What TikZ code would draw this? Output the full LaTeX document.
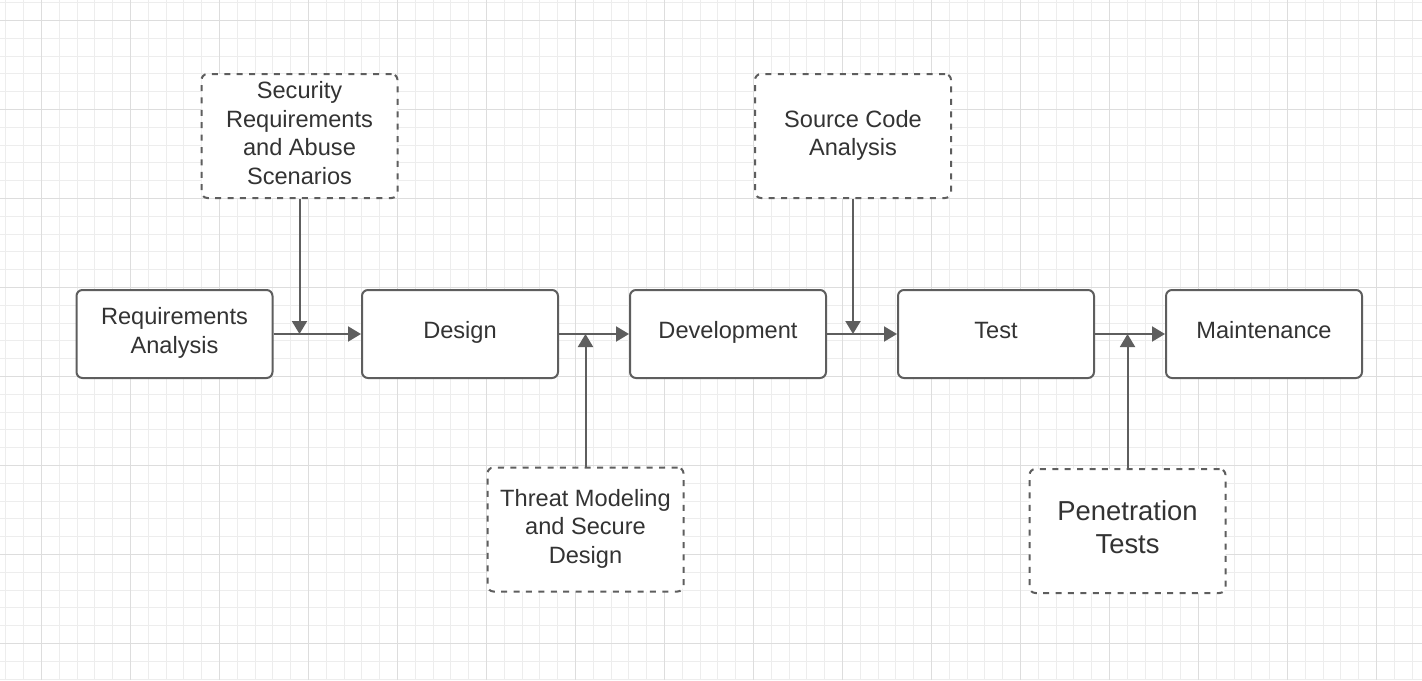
\documentclass[tikz,border=0pt]{standalone}
\usepackage{fontspec}
\setmainfont{Liberation Sans}
\usetikzlibrary{arrows.meta}
\definecolor{edge}{HTML}{5E5E5E}
\definecolor{txt}{HTML}{333333}
\definecolor{gminor}{HTML}{EDEDED}
\definecolor{gmajor}{HTML}{DDDDDD}
\tikzset{
  stagebox/.style={draw=edge, line width=1pt, rounded corners=3pt, fill=white,
    minimum width=98pt, minimum height=44pt, inner sep=0pt, align=center,
    text=txt, font=\fontsize{11.8}{14.25}\selectfont},
  oneline/.style={text height=8pt, text depth=3.5pt},
  actbox/.style={stagebox, dash pattern=on 3pt off 3.2pt, minimum height=62pt},
  conn/.style={draw=edge, line width=1pt, -{Triangle[length=6.5pt,width=7.5pt]}},
  gminorl/.style={gminor, line width=0.5pt},
  gmajorl/.style={gmajor, line width=0.6pt}
}
\begin{document}
\begin{tikzpicture}[x=0.5pt,y=-0.5pt]
\useasboundingbox (0,0) rectangle (1422,680);
\fill[white] (0,0) rectangle (1422,680);
% grid
\foreach \i in {-2,...,78} {
  \draw[gminorl] ({41.5+17.8*\i},0) -- ({41.5+17.8*\i},680);
}
\foreach \i in {-1,...,37} {
  \draw[gminorl] (0,{20.5+17.8*\i}) -- (1422,{20.5+17.8*\i});
}
\foreach \i in {0,...,15} {
  \draw[gmajorl] ({41.5+89*\i},0) -- ({41.5+89*\i},680);
}
\foreach \i in {0,...,7} {
  \draw[gmajorl] (0,{20.5+89*\i}) -- (1422,{20.5+89*\i});
}
% stages
\node[stagebox, text depth=3.5pt] (ra) at (174.5,334) {Requirements\\Analysis};
\node[stagebox, oneline] (de) at (460,334) {Design};
\node[stagebox, oneline] (dv) at (728,334) {Development};
\node[stagebox, oneline] (te) at (996,334) {Test};
\node[stagebox, oneline] (ma) at (1264,334) {Maintenance};
% activities
\node[actbox, text depth=3pt] (sr) at (299.5,136) {Security\\Requirements\\and Abuse\\Scenarios};
\node[actbox, text depth=3pt] (sc) at (853,136) {Source Code\\Analysis};
\node[actbox, text depth=3.5pt] (tm) at (585.5,529.5) {Threat Modeling\\and Secure\\Design};
\node[actbox, text depth=4.2pt, font=\fontsize{13.7}{16.5}\selectfont] (pt) at (1127.5,531) {Penetration\\Tests};
% connectors
\draw[conn] (ra.east) -- (de.west);
\draw[conn] (de.east) -- (dv.west);
\draw[conn] (dv.east) -- (te.west);
\draw[conn] (te.east) -- (ma.west);
\draw[conn] (sr.south) -- (sr.south |- ra.east);
\draw[conn] (sc.south) -- (sc.south |- dv.east);
\draw[conn] (tm.north) -- (tm.north |- de.east);
\draw[conn] (pt.north) -- (pt.north |- te.east);
\end{tikzpicture}
\end{document}
